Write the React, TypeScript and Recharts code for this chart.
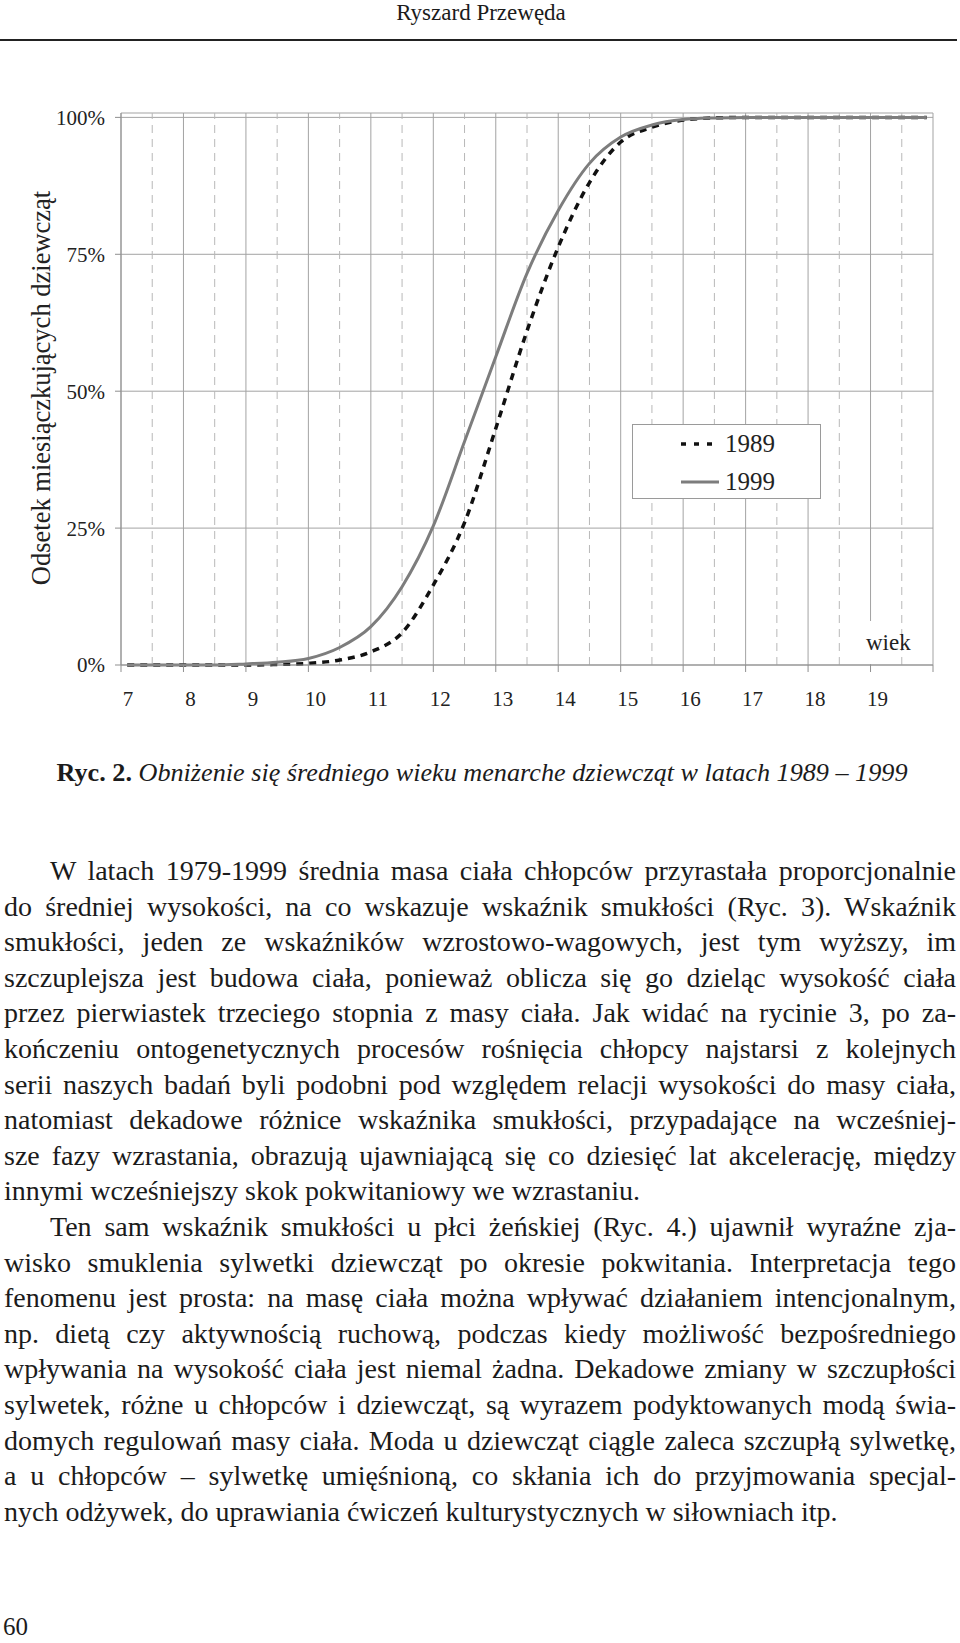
import { LineChart, Line, XAxis, YAxis, CartesianGrid, ReferenceLine, Legend } from 'recharts';

// odczyt z ryciny: odsetek miesiączkujących dziewcząt wg wieku
const ages = [7.1, 7.5, 8, 8.5, 9, 9.5, 10, 10.5, 11, 11.5, 12, 12.5, 13, 13.5, 14, 14.5, 15, 15.5, 16, 16.5, 17, 17.5, 18, 18.5, 19, 19.5, 19.9];
const pct1989 = [0, 0, 0, 0, 0, 0.1, 0.3, 0.9, 2.4, 5.9, 14.6, 26, 43.2, 61, 76.3, 88.1, 95.5, 98.2, 99.5, 99.9, 100, 100, 100, 100, 100, 100, 100];
const pct1999 = [0, 0, 0, 0, 0.2, 0.5, 1.2, 3.2, 7, 14.3, 25.4, 40.8, 56.3, 71.5, 83, 91.6, 96.4, 98.6, 99.6, 99.9, 100, 100, 100, 100, 100, 100, 100];

const yearTicks = [7, 8, 9, 10, 11, 12, 13, 14, 15, 16, 17, 18, 19, 20];
const halfYears = [7.5, 8.5, 9.5, 10.5, 11.5, 12.5, 13.5, 14.5, 15.5, 16.5, 17.5, 18.5, 19.5];
const pctTicks = [0, 25, 50, 75, 100];

const seriesNames = ['1989', '1999'];

const bodyLines = [
  'W latach 1979-1999 średnia masa ciała chłopców przyrastała proporcjonalnie',
  'do średniej wysokości, na co wskazuje wskaźnik smukłości (Ryc. 3). Wskaźnik',
  'smukłości, jeden ze wskaźników wzrostowo-wagowych, jest tym wyższy, im',
  'szczuplejsza jest budowa ciała, ponieważ oblicza się go dzieląc wysokość ciała',
  'przez pierwiastek trzeciego stopnia z masy ciała. Jak widać na rycinie 3, po za-',
  'kończeniu ontogenetycznych procesów rośnięcia chłopcy najstarsi z kolejnych',
  'serii naszych badań byli podobni pod względem relacji wysokości do masy ciała,',
  'natomiast dekadowe różnice wskaźnika smukłości, przypadające na wcześniej-',
  'sze fazy wzrastania, obrazują ujawniającą się co dziesięć lat akcelerację, między',
  'innymi wcześniejszy skok pokwitaniowy we wzrastaniu.',
  'Ten sam wskaźnik smukłości u płci żeńskiej (Ryc. 4.) ujawnił wyraźne zja-',
  'wisko smuklenia sylwetki dziewcząt po okresie pokwitania. Interpretacja tego',
  'fenomenu jest prosta: na masę ciała można wpływać działaniem intencjonalnym,',
  'np. dietą czy aktywnością ruchową, podczas kiedy możliwość bezpośredniego',
  'wpływania na wysokość ciała jest niemal żadna. Dekadowe zmiany w szczupłości',
  'sylwetek, różne u chłopców i dziewcząt, są wyrazem podyktowanych modą świa-',
  'domych regulowań masy ciała. Moda u dziewcząt ciągle zaleca szczupłą sylwetkę,',
  'a u chłopców – sylwetkę umięśnioną, co skłania ich do przyjmowania specjal-',
  'nych odżywek, do uprawiania ćwiczeń kulturystycznych w siłowniach itp.',
];
const indentLines = [0, 10];
const paragraphEnds = [9, 18];

const data = ages.map((age, i) => ({ age, y1989: pct1989[i], y1999: pct1999[i] }));

const serif = '"Liberation Serif", "Times New Roman", serif';

function XTick({ x, y, payload }: any) {
  if (payload.value >= 20) return null;
  return (
    <text x={x + 7} y={y + 27} textAnchor="middle" dominantBaseline="central" fontSize={21} fontFamily={serif} fill="#222">
      {payload.value}
    </text>
  );
}

function LegendBox() {
  return (
    <div style={{ width: 187, height: 73, border: '1px solid #9a9a9a', background: '#fff', position: 'relative', fontFamily: serif }}>
      {seriesNames.map((name, i) => (
        <div key={name} style={{ position: 'absolute', left: 0, top: 4 + i * 38, height: 30, width: 187 }}>
          <svg width={40} height={30} style={{ position: 'absolute', left: 47, top: 0 }}>
            <line x1={1} y1={15} x2={39} y2={15}
              stroke={i === 0 ? '#111' : '#7d7d7d'}
              strokeWidth={i === 0 ? 3.5 : 3}
              strokeDasharray={i === 0 ? '5 8' : undefined} />
          </svg>
          <span style={{ position: 'absolute', left: 92, top: 0, lineHeight: '30px', fontSize: 25, color: '#222' }}>{name}</span>
        </div>
      ))}
    </div>
  );
}

export default function App() {
  return (
    <div style={{ position: 'relative', width: 960, height: 1643, background: '#fff', fontFamily: serif, color: '#1b1b1b', overflow: 'hidden' }}>
      <style>{'body{margin:0}'}</style>

      <div style={{ position: 'absolute', top: 0, left: 0, width: 962, textAlign: 'center', fontSize: 23, lineHeight: '26px' }}>
        Ryszard Przewęda
      </div>
      <div style={{ position: 'absolute', top: 39, left: 0, width: 957, height: 2, background: '#222' }} />

      <div style={{ position: 'absolute', top: 0, left: 0 }}>
        <LineChart width={960} height={720} data={data} margin={{ top: 113, right: 27, bottom: 10, left: 0 }}>
          <CartesianGrid stroke="#a3a3a3" strokeWidth={1} />
          {halfYears.map((h) => (
            <ReferenceLine key={h} x={h} stroke="#b8b8b8" strokeDasharray="8 6" />
          ))}
          <XAxis dataKey="age" type="number" domain={[7, 20]} ticks={yearTicks} interval={0}
            height={45} tickSize={7} tickMargin={0} tick={<XTick />}
            axisLine={{ stroke: '#8f8f8f' }} tickLine={{ stroke: '#8f8f8f' }} />
          <YAxis type="number" domain={[0, 100.8]} ticks={pctTicks} width={121} tickSize={6} tickMargin={10}
            tickFormatter={(v) => v + '%'} interval={0}
            tick={{ fontSize: 21, fontFamily: serif, fill: '#222' }}
            axisLine={{ stroke: '#8f8f8f' }} tickLine={{ stroke: '#8f8f8f' }} />
          <Legend content={<LegendBox />} layout="horizontal" verticalAlign="middle" align="center"
            wrapperStyle={{ left: 632, top: 424, width: 189, height: 75 }} />
          <Line type="monotone" dataKey="y1989" name={seriesNames[0]} stroke="#111" strokeWidth={3.5}
            strokeDasharray="7 6" dot={false} isAnimationActive={false} />
          <Line type="monotone" dataKey="y1999" name={seriesNames[1]} stroke="#7d7d7d" strokeWidth={3}
            dot={false} isAnimationActive={false} />
        </LineChart>
      </div>

      <div style={{ position: 'absolute', left: 41, top: 388, transform: 'translate(-50%, -50%) rotate(-90deg)', whiteSpace: 'nowrap', fontSize: 26.5, color: '#222' }}>
        Odsetek miesiączkujących dziewcząt
      </div>

      <div style={{ position: 'absolute', left: 862, top: 621, width: 26, height: 43, background: '#fff' }} />
      <div style={{ position: 'absolute', left: 866, top: 630, fontSize: 23, lineHeight: '26px', color: '#222' }}>wiek</div>

      <div style={{ position: 'absolute', left: 0, width: 964, top: 757, textAlign: 'center', fontSize: 26.2, lineHeight: '32px', whiteSpace: 'nowrap' }}>
        <b>Ryc. 2.</b> <i>Obniżenie się średniego wieku menarche dziewcząt w latach 1989 – 1999</i>
      </div>

      {bodyLines.map((line, i) => (
        <div key={i} style={{
          position: 'absolute', left: 4, width: 952, top: 853 + i * 35.6, height: 36, lineHeight: '36px', fontSize: 28,
          textAlign: 'justify', textAlignLast: paragraphEnds.includes(i) ? 'left' : 'justify',
          textIndent: indentLines.includes(i) ? 46 : 0,
        }}>
          {line}
        </div>
      ))}

      <div style={{ position: 'absolute', left: 3, top: 1613, fontSize: 25, lineHeight: '28px' }}>60</div>
    </div>
  );
}
